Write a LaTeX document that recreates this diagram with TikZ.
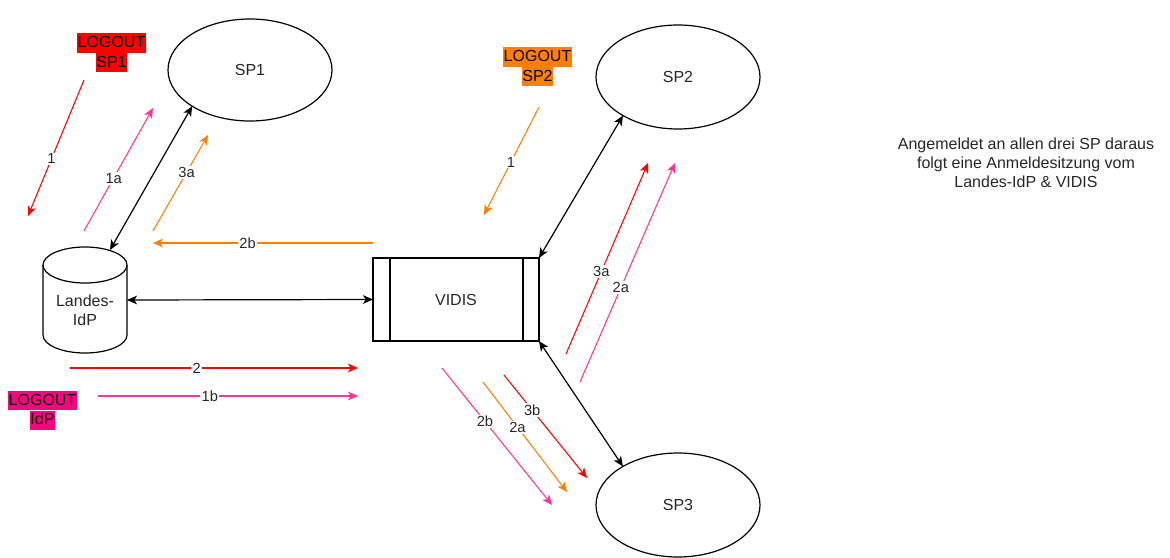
\documentclass[tikz,border=0pt]{standalone}
\usepackage{fontspec}
\setmainfont{Liberation Sans}
\usetikzlibrary{arrows.meta,shapes.geometric}
\definecolor{cred}{HTML}{FF0000}
\definecolor{corange}{HTML}{FF8000}
\definecolor{cpink}{HTML}{FF3399}
\definecolor{cmag}{HTML}{FF0080}
\definecolor{txt}{HTML}{262626}
\begin{document}
\begin{tikzpicture}[x=0.75pt,y=-0.75pt,
  sp/.style={ellipse, draw, line width=0.9pt, minimum width=123pt, minimum height=76.5pt, inner sep=0pt, outer sep=0pt, font=\fontsize{12}{14.4}\selectfont, text=txt},
  blk/.style={{Stealth[length=7.5pt,width=6.5pt,inset=2pt]}-{Stealth[length=7.5pt,width=6.5pt,inset=2pt]}, line width=0.9pt},
  carrow/.style={-{Stealth[length=7.5pt,width=6.5pt,inset=2pt]}, line width=0.8pt},
  lbl/.style={fill=white, inner sep=1pt, font=\fontsize{11}{13}\selectfont, text=txt},
  logout/.style={inner xsep=0.6pt, inner ysep=0pt, text height=10.6pt, text depth=3.8pt, font=\fontsize{12}{14.4}\selectfont, text=black},
  plain/.style={font=\fontsize{12}{14.4}\selectfont, text=txt, align=center}
]
\useasboundingbox (0,0) rectangle (1170,557);

% service providers
\node[sp] (sp1) at (250,70) {SP1};
\node[sp, minimum height=78pt] (sp2) at (678,77) {SP2};
\node[sp, minimum height=78pt] (sp3) at (678,505) {SP3};

% Landes-IdP cylinder
\node[minimum width=63pt, minimum height=79.5pt, inner sep=0pt, outer sep=0pt] (idp) at (85,300) {};
\draw[line width=0.9pt] (85,265) ellipse [x radius=31.5pt, y radius=13.5pt];
\draw[line width=0.9pt] (43,265) -- (43,335) arc[start angle=180, end angle=360, x radius=31.5pt, y radius=13.5pt] -- (127,265);
\node[plain] (idplabel) at (85,310) {Landes-\\IdP};
\coordinate (idptop) at (110,250);

% VIDIS
\node[draw, line width=0.9pt, minimum width=124.5pt, minimum height=62.25pt, inner sep=0pt, outer sep=0pt, font=\fontsize{12}{14.4}\selectfont, text=txt] (vidis) at (456,299.5) {VIDIS};
\draw[line width=0.9pt] ([xshift=12.75pt]vidis.north west) -- ([xshift=12.75pt]vidis.south west);
\draw[line width=0.9pt] ([xshift=-12pt]vidis.north east) -- ([xshift=-12pt]vidis.south east);

% black connectors
\draw[blk] (idptop) -- (sp1.212);
\draw[blk] (idp.east) -- (vidis.west);
\draw[blk] (vidis.north east) -- (sp2.215);
\draw[blk] (vidis.south east) -- (sp3.145);

% LOGOUT labels
\node[logout, fill=cred] (lo1a) at (111.5,43) {LOGOUT};
\node[logout, fill=cred, anchor=north] (lo1b) at (lo1a.south) {SP1};
\node[logout, fill=corange] (lo2a) at (537.5,57) {LOGOUT};
\node[logout, fill=corange, anchor=north] (lo2b) at (lo2a.south) {SP2};
\node[logout, fill=cmag] (lo3a) at (42.5,400.5) {LOGOUT};
\node[logout, fill=cmag, anchor=north] (lo3b) at (lo3a.south) {IdP};

% note
\node[plain] (note) at (1026,163) {Angemeldet an allen drei SP daraus\\folgt eine Anmeldesitzung vom\\Landes-IdP \& VIDIS};

% free arrow end points
\coordinate (a1s) at (84,80);   \coordinate (a1e) at (28,216);
\coordinate (a1as) at (84,231); \coordinate (a1ae) at (153,108);
\coordinate (a3as) at (153,231); \coordinate (a3ae) at (208,135);
\coordinate (a2bs) at (373,243); \coordinate (a2be) at (153,243);
\coordinate (a2s) at (70,368);  \coordinate (a2e) at (358,368);
\coordinate (a1bs) at (98,396); \coordinate (a1be) at (358,396);
\coordinate (b1s) at (539,107); \coordinate (b1e) at (484,215);
\coordinate (b3as) at (566,354); \coordinate (b3ae) at (648,163);
\coordinate (b2as) at (580,382); \coordinate (b2ae) at (675,163);
\coordinate (c2bs) at (442,368); \coordinate (c2be) at (552,505);
\coordinate (c2as) at (483,382); \coordinate (c2ae) at (567,492);
\coordinate (c3bs) at (504,375); \coordinate (c3be) at (587,478);

% coloured arrows
\draw[carrow, cred] (a1s) -- node[lbl, pos=0.58] {1} (a1e);
\draw[carrow, cpink] (a1as) -- node[lbl, pos=0.43] {1a} (a1ae);
\draw[carrow, corange] (a3as) -- node[lbl, pos=0.61] {3a} (a3ae);
\draw[carrow, corange] (a2bs) -- node[lbl, pos=0.57] {2b} (a2be);
\draw[carrow, cred] (a2s) -- node[lbl, pos=0.44] {2} (a2e);
\draw[carrow, cpink] (a1bs) -- node[lbl, pos=0.43] {1b} (a1be);
\draw[carrow, corange] (b1s) -- node[lbl, pos=0.51] {1} (b1e);
\draw[carrow, cred] (b3as) -- node[lbl, pos=0.43] {3a} (b3ae);
\draw[carrow, cpink] (b2as) -- node[lbl, pos=0.43] {2a} (b2ae);
\draw[carrow, cpink] (c2bs) -- node[lbl, pos=0.39] {2b} (c2be);
\draw[carrow, corange] (c2as) -- node[lbl, pos=0.41] {2a} (c2ae);
\draw[carrow, cred] (c3bs) -- node[lbl, pos=0.34] {3b} (c3be);
\end{tikzpicture}
\end{document}
